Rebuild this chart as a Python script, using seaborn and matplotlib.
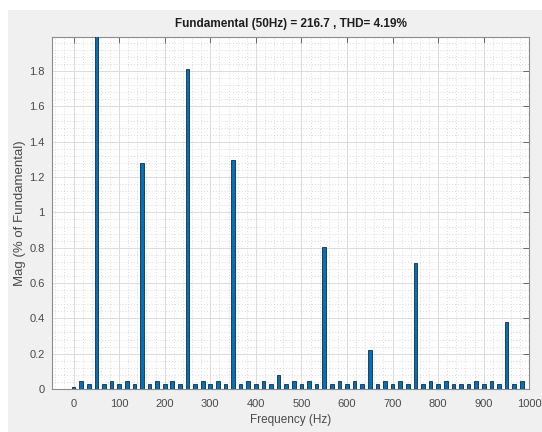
import matplotlib
matplotlib.use("Agg")
import matplotlib.pyplot as plt
from matplotlib.patches import Rectangle
from matplotlib.ticker import MultipleLocator
import seaborn as sns
import pandas as pd

# ---- data ----
freq_hz = [0.0, 16.67, 33.33, 50.0, 66.67, 83.33, 100.0, 116.67, 133.33, 150.0,
           166.67, 183.33, 200.0, 216.67, 233.33, 250.0, 266.67, 283.33, 300.0, 316.67,
           333.33, 350.0, 366.67, 383.33, 400.0, 416.67, 433.33, 450.0, 466.67, 483.33,
           500.0, 516.67, 533.33, 550.0, 566.67, 583.33, 600.0, 616.67, 633.33, 650.0,
           666.67, 683.33, 700.0, 716.67, 733.33, 750.0, 766.67, 783.33, 800.0, 816.67,
           833.33, 850.0, 866.67, 883.33, 900.0, 916.67, 933.33, 950.0, 966.67, 983.33]
mag_pct = [0.011, 0.043, 0.027, 100.0, 0.027, 0.043, 0.027, 0.043, 0.027, 1.278,
           0.027, 0.043, 0.027, 0.043, 0.027, 1.811, 0.027, 0.043, 0.027, 0.043,
           0.027, 1.298, 0.027, 0.043, 0.027, 0.043, 0.027, 0.078, 0.027, 0.043,
           0.027, 0.043, 0.027, 0.803, 0.027, 0.043, 0.027, 0.043, 0.027, 0.221,
           0.027, 0.043, 0.027, 0.043, 0.027, 0.714, 0.027, 0.043, 0.027, 0.043,
           0.027, 0.027, 0.027, 0.043, 0.027, 0.043, 0.027, 0.377, 0.027, 0.043]
x_ticks = [0, 100, 200, 300, 400, 500, 600, 700, 800, 900, 1000]
y_ticks = [0, 0.2, 0.4, 0.6, 0.8, 1.0, 1.2, 1.4, 1.6, 1.8]
y_tick_labels = ["0", "0.2", "0.4", "0.6", "0.8", "1", "1.2", "1.4", "1.6", "1.8"]
title_text = "Fundamental (50Hz) = 216.7 , THD= 4.19%"
x_label = "Frequency (Hz)"
y_label = "Mag (% of Fundamental)"

df = pd.DataFrame({"freq": freq_hz, "mag": mag_pct})

sns.set_theme(style="white")
plt.rcParams["font.family"] = ["Liberation Sans", "DejaVu Sans"]

fig = plt.figure(figsize=(5.42, 4.32), dpi=100, facecolor="white")
fig.patches.append(Rectangle((8 / 542, 0), 1 - 8 / 542, 422 / 432,
                             transform=fig.transFigure, facecolor="#f0f0f0",
                             edgecolor="none", zorder=-10))
ax = fig.add_axes([51.7 / 542, 1 - 389 / 432, (529.3 - 51.7) / 542, (389 - 36.7) / 432])
ax.set_facecolor("white")

sns.barplot(data=df, x="freq", y="mag", native_scale=True, width=0.48,
            color="#0072BD", saturation=1, edgecolor="#1a2a3a", linewidth=0.6,
            errorbar=None, ax=ax, zorder=3)

ax.set_xlim(-48, 1000)
ax.set_ylim(0, 1.995)
ax.set_xticks(x_ticks)
ax.set_xticklabels([str(t) for t in x_ticks])
ax.set_yticks(y_ticks)
ax.set_yticklabels(y_tick_labels)
ax.xaxis.set_minor_locator(MultipleLocator(20))
ax.yaxis.set_minor_locator(MultipleLocator(0.04))

ax.grid(True, which="major", color="#dcdcdc", linestyle="-", linewidth=0.7, zorder=0)
ax.grid(True, which="minor", color="#d0d0d0", linestyle=(0, (1, 2.5)), linewidth=0.6, zorder=0)
ax.set_axisbelow(True)

ax.tick_params(axis="both", which="major", direction="in", length=4, width=0.6,
               color="#555555", labelsize=8, labelcolor="#4a4a4a",
               top=True, right=True, pad=5)
ax.tick_params(axis="x", which="major", pad=7)
ax.tick_params(axis="both", which="minor", length=0)
for s in ax.spines.values():
    s.set_color("#8c8c8c")
    s.set_linewidth(0.8)

ax.set_title(title_text, fontsize=8.5, fontweight="bold", color="#1e1e1e", pad=7)
ax.set_xlabel(x_label, fontsize=8.5, color="#4a4a4a", labelpad=4)
ax.set_ylabel(y_label, fontsize=9.5, color="#4a4a4a", labelpad=2)

fig.savefig("out.png", dpi=100, facecolor=fig.get_facecolor())
